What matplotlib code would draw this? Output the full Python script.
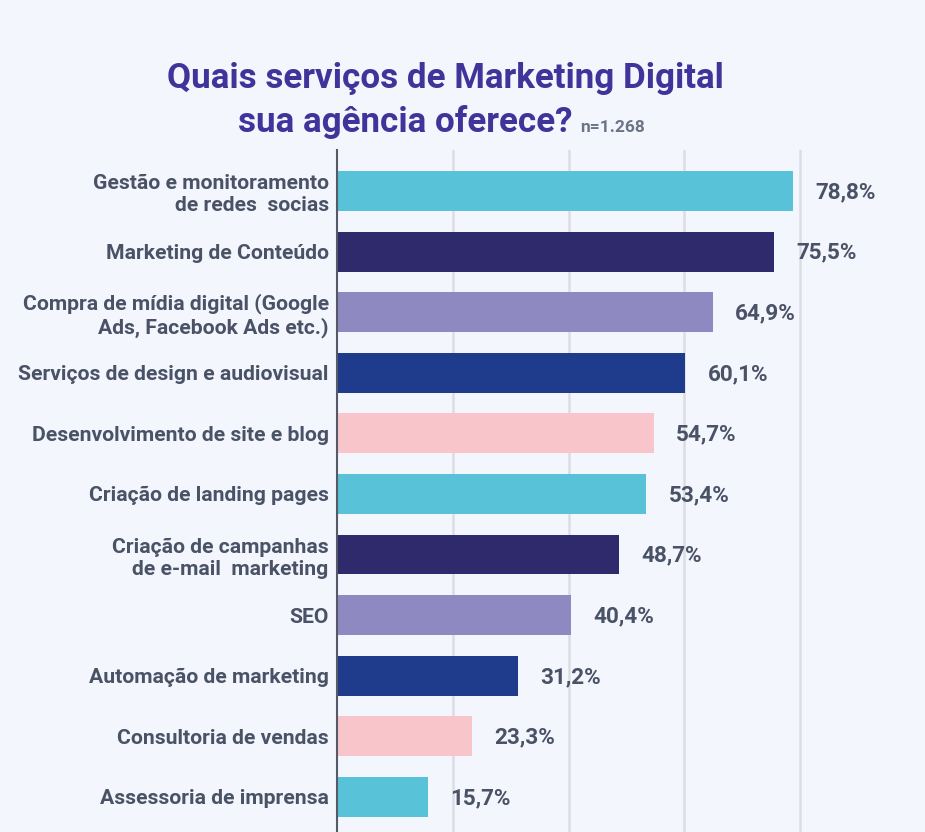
import matplotlib.pyplot as plt

plt.rcParams['font.family'] = ['Roboto', 'DejaVu Sans']

categories = [
    'Gestão e monitoramento\nde redes  socias',
    'Marketing de Conteúdo',
    'Compra de mídia digital (Google\nAds, Facebook Ads etc.)',
    'Serviços de design e audiovisual',
    'Desenvolvimento de site e blog',
    'Criação de landing pages',
    'Criação de campanhas\nde e-mail  marketing',
    'SEO',
    'Automação de marketing',
    'Consultoria de vendas',
    'Assessoria de imprensa',
]
values = [78.8, 75.5, 64.9, 60.1, 54.7, 53.4, 48.7, 40.4, 31.2, 23.3, 15.7]
value_labels = ['78,8%', '75,5%', '64,9%', '60,1%', '54,7%', '53,4%',
                '48,7%', '40,4%', '31,2%', '23,3%', '15,7%']
palette = ['#58c2d8', '#2e2a6b', '#8f89c2', '#1f3c8c', '#f8c6ca']
grid_ticks = [20, 40, 60, 80]

bg = '#f3f6fd'
text_col = '#4a5266'

fig = plt.figure(figsize=(9.25, 8.32), dpi=100, facecolor=bg)
# axis 0 at x=337px, 5.79 px per percent; top at y=150px
ax = fig.add_axes([337 / 925, 0, (925 - 337) / 925, (832 - 150) / 832], facecolor=bg)

ypos = list(range(len(values)))
colors = [palette[i % len(palette)] for i in ypos]
ax.barh(ypos, values, height=0.66, color=colors, zorder=3)

for y, v, lab in zip(ypos, values, value_labels):
    ax.text(v + 3.9, y + 0.02, lab, va='center', ha='left', fontsize=16.2,
            fontweight='bold', color=text_col)

ax.set_xlim(0, (925 - 337) / 5.79)
ax.set_ylim(10.58, -0.676)
ax.set_xticks(grid_ticks)
ax.set_xticklabels([])
ax.tick_params(axis='x', length=0)
ax.xaxis.grid(True, color='#dcdde2', linewidth=1.8, zorder=0)
ax.set_axisbelow(True)

ax.set_yticks(ypos)
ax.set_yticklabels(categories, fontsize=15.2, fontweight='bold', color=text_col,
                   linespacing=1.2)
ax.tick_params(axis='y', length=0, pad=6)

for s in ['top', 'right', 'bottom']:
    ax.spines[s].set_visible(False)
ax.spines['left'].set_color('#555a66')
ax.spines['left'].set_linewidth(1.5)
ax.spines['left'].set_zorder(4)

title_col = '#40349a'
fig.text(445 / 925, 1 - 88 / 832, 'Quais serviços de Marketing Digital',
         ha='center', va='baseline', fontsize=25.2, fontweight='bold', color=title_col)
fig.text(572 / 925, 1 - 132 / 832, 'sua agência oferece?',
         ha='right', va='baseline', fontsize=25.2, fontweight='bold', color=title_col)
fig.text(580 / 925, 1 - 132 / 832, 'n=1.268',
         ha='left', va='baseline', fontsize=12.5, fontweight='bold', color='#6b7385')

fig.savefig('out.png', dpi=100, facecolor=bg)
